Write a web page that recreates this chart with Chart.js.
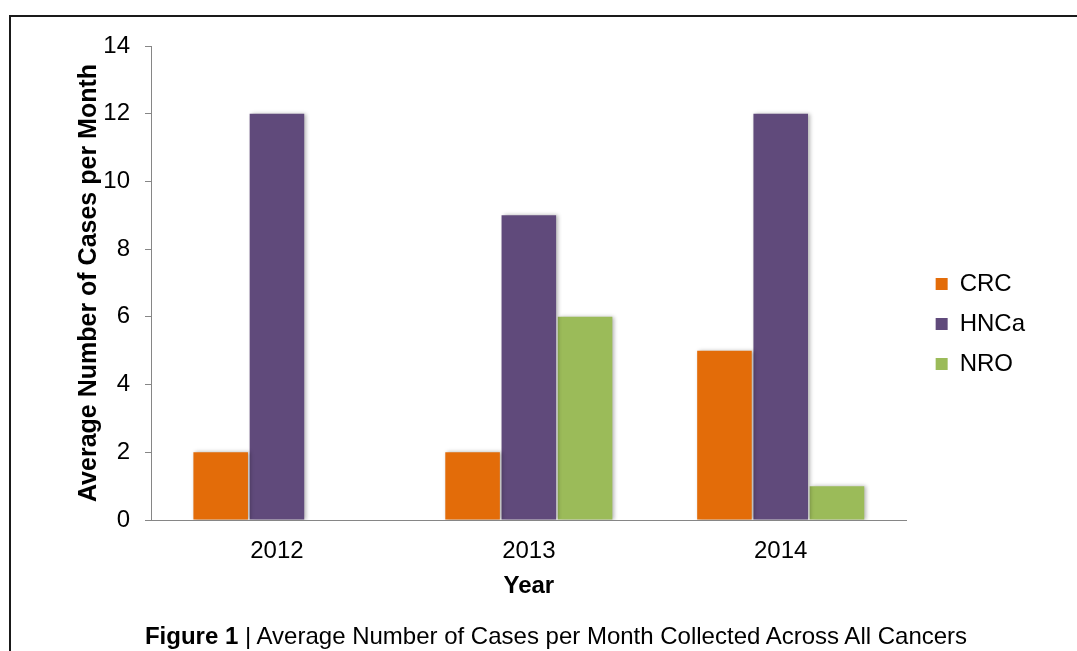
<!DOCTYPE html>
<html>
<head>
<meta charset="utf-8">
<script src="https://cdn.jsdelivr.net/npm/chart.js@4.4.1/dist/chart.umd.min.js"></script>
<style>
  html, body { margin: 0; padding: 0; background: #fff; overflow: hidden; }
  body { width: 1077px; height: 651px; position: relative; }
  #frame {
    position: absolute; left: 9px; top: 15px;
    width: 2000px; height: 2000px;
    border-top: 2px solid #1a1a1a; border-left: 2px solid #1a1a1a;
  }
  #chart { position: absolute; left: 0; top: 0; }
  #caption {
    position: absolute; left: 556px; top: 622px;
    transform: translateX(-50%);
    white-space: nowrap;
    font-family: "Liberation Sans", Arial, sans-serif;
    font-size: 24px; color: #000; line-height: 28px;
  }
</style>
</head>
<body>
<div id="frame"></div>
<canvas id="chart" width="1077" height="651"></canvas>
<div id="caption"><b>Figure 1</b> | Average Number of Cases per Month Collected Across All Cancers</div>

<script>
// chart data
const years = ['2012', '2013', '2014'];
const seriesNames = ['CRC', 'HNCa', 'NRO'];
const crcValues = [2, 2, 5];
const hncaValues = [12, 9, 12];
const nroValues = [0, 6, 1];
const yTicks = [0, 2, 4, 6, 8, 10, 12, 14];

const colors = ['#E36C09', '#604A7B', '#9BBB59'];
const FONT = '"Liberation Sans", Arial, sans-serif';

// soft grey shadow to the right of each bar
const barShadow = {
    id: 'barShadow',
    beforeDatasetsDraw(chart) {
        const ctx = chart.ctx;
        ctx.save();
        ctx.shadowColor = 'rgba(0, 0, 0, 0.3)';
        ctx.shadowBlur = 4;
        ctx.shadowOffsetX = 2;
        ctx.shadowOffsetY = 0;
    },
    afterDatasetsDraw(chart) {
        chart.ctx.restore();
    }
};

const datasets = [crcValues, hncaValues, nroValues].map((values, i) => ({
    label: seriesNames[i],
    data: values,
    backgroundColor: colors[i],
    borderWidth: 0,
    categoryPercentage: 0.67,
    barPercentage: 0.97
}));

new Chart(document.getElementById('chart'), {
    type: 'bar',
    data: { labels: years, datasets: datasets },
    plugins: [barShadow],
    options: {
        responsive: false,
        animation: false,
        layout: { padding: { left: 70, top: 46, right: 42, bottom: 49 } },
        plugins: {
            tooltip: { enabled: false },
            legend: {
                position: 'right',
                labels: {
                    boxWidth: 12,
                    boxHeight: 12,
                    padding: 16,
                    color: '#000',
                    font: { family: FONT, size: 24 }
                }
            }
        },
        scales: {
            x: {
                grid: { display: false, drawTicks: false },
                border: { display: true, color: '#868686', width: 1 },
                ticks: { color: '#000', padding: 17, font: { family: FONT, size: 24 } },
                title: {
                    display: true,
                    text: 'Year',
                    color: '#000',
                    padding: { top: 0, bottom: 1 },
                    font: { family: FONT, size: 24, weight: 'bold' }
                },
                afterFit(scale) { scale.height = 82; }
            },
            y: {
                min: 0,
                max: 14,
                afterBuildTicks(scale) { scale.ticks = yTicks.map(v => ({ value: v })); },
                grid: { display: true, drawOnChartArea: false, drawTicks: true, tickLength: 6, color: '#868686' },
                border: { display: true, color: '#868686', width: 1 },
                ticks: { color: '#000', padding: 15, font: { family: FONT, size: 24 } },
                title: {
                    display: true,
                    text: 'Average Number of Cases per Month',
                    color: '#000',
                    padding: { top: 4, bottom: 0 },
                    font: { family: FONT, size: 25, weight: 'bold' }
                },
                afterFit(scale) { scale.width = 81; }
            },
            // empty spacer between the plot and the legend
            spacer: {
                type: 'linear',
                position: 'right',
                display: true,
                grid: { display: false, drawTicks: false },
                border: { display: false },
                ticks: { display: false },
                afterFit(scale) { scale.width = 13; }
            }
        }
    }
});
</script>
</body>
</html>
